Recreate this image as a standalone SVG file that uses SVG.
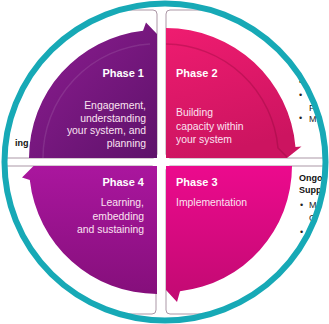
<svg xmlns="http://www.w3.org/2000/svg" width="329" height="324" viewBox="0 0 329 324">
<defs>
 <clipPath id="circ"><ellipse cx="165" cy="162" rx="158" ry="156"/></clipPath>
 <linearGradient id="g1" x1="0" y1="0" x2="1" y2="1"><stop offset="0" stop-color="#8e1d92"/><stop offset="1" stop-color="#5e126a"/></linearGradient>
 <linearGradient id="g2" x1="0" y1="0" x2="0.3" y2="1"><stop offset="0" stop-color="#ef1c70"/><stop offset="1" stop-color="#cc1460"/></linearGradient>
 <linearGradient id="g3" x1="0" y1="0" x2="0" y2="1"><stop offset="0" stop-color="#ec0a8d"/><stop offset="1" stop-color="#c10a72"/></linearGradient>
 <linearGradient id="g4" x1="0" y1="0" x2="0" y2="1"><stop offset="0" stop-color="#aa169e"/><stop offset="1" stop-color="#850f7b"/></linearGradient>
</defs>
<style>
 .card{fill:#fff;stroke:#ab97a6;stroke-width:1}
 .ph{font-family:"Liberation Sans",Arial,sans-serif;font-weight:bold;font-size:11px;fill:#fff}
 .bd{font-family:"Liberation Sans",Arial,sans-serif;font-size:10.4px;fill:#fbe3f1}
 .r{text-anchor:end}
 .ex{font-family:"Liberation Sans",Arial,sans-serif;font-size:9px;fill:#222}
 .exb{font-family:"Liberation Sans",Arial,sans-serif;font-size:9px;font-weight:bold;fill:#111}
 .sheen{fill:none;stroke-width:1.5}
</style>
<rect width="329" height="324" fill="#fff"/>
<g clip-path="url(#circ)">
 <g id="phase1">
  <rect class="card" x="-10" y="10" width="167" height="148" rx="4"/>
  <path d="M157,158 L29,158 A128,128 0 0 1 143,30.8 L146,22.5 L157,34 Z" fill="url(#g1)"/>
  <path class="sheen" d="M43,158 A114,114 0 0 1 150,44" stroke="rgba(255,255,255,0.10)"/>
  <text class="ph r" x="144" y="77">Phase 1</text>
  <text class="bd r" x="146" y="109">Engagement,</text>
  <text class="bd r" x="146" y="121.5">understanding</text>
  <text class="bd r" x="146" y="134">your system, and</text>
  <text class="bd r" x="146" y="146.5">planning</text>
  <text class="exb" x="15" y="146">ing</text>
 </g>
 <g id="phase2">
  <rect class="card" x="166" y="10" width="200" height="148" rx="4"/>
  <path d="M166,158 L166,28 A130,130 0 0 1 295.5,147 L301.5,146.5 L287,158 Z" fill="url(#g2)"/>
  <path class="sheen" d="M166,44 A114,114 0 0 1 278,148 L287,157" stroke="rgba(110,0,40,0.25)"/>
  <text class="ph" x="176" y="77">Phase 2</text>
  <text class="bd" x="176" y="116">Building</text>
  <text class="bd" x="176" y="129.5">capacity within</text>
  <text class="bd" x="176" y="143">your system</text>
  <text class="ex" x="299" y="85">•</text>
  <text class="ex" x="299" y="98">•</text>
  <text class="ex" x="309" y="111" fill="#888">P</text>
  <text class="ex" x="299" y="121">•</text>
  <text class="ex" x="309" y="122" fill="#444">M</text>
 </g>
 <g id="phase3">
  <rect class="card" x="166" y="166" width="200" height="148" rx="4"/>
  <path d="M166,166 L292,166 A126,126 0 0 1 180,291.2 L177,302 L166,290 Z" fill="url(#g3)"/>
  <text class="ph" x="176" y="186">Phase 3</text>
  <text class="bd" x="176" y="206">Implementation</text>
  <text class="exb" x="299" y="181">Ongoi</text>
  <text class="exb" x="299" y="193">Suppo</text>
  <text class="ex" x="300" y="208">•</text>
  <text class="ex" x="309" y="208" fill="#555">Ma</text>
  <text class="ex" x="309" y="221" fill="#555">O</text>
  <text class="ex" x="300" y="235">•</text>
  <text class="ex" x="310" y="235" fill="#555">T</text>
 </g>
 <g id="phase4">
  <rect class="card" x="-10" y="166" width="166" height="148" rx="4"/>
  <path d="M157,166 L157,294 A128,128 0 0 1 29.8,180 L22,177.5 L33.5,166 Z" fill="url(#g4)"/>
  <text class="ph r" x="144" y="186">Phase 4</text>
  <text class="bd r" x="144" y="206">Learning,</text>
  <text class="bd r" x="144" y="219.5">embedding</text>
  <text class="bd r" x="144" y="233">and sustaining</text>
 </g>
</g>
<g id="connectors">
 <ellipse cx="165" cy="162" rx="160.5" ry="158.5" fill="none" stroke="#17a9b6" stroke-width="6"/>
</g>
</svg>
